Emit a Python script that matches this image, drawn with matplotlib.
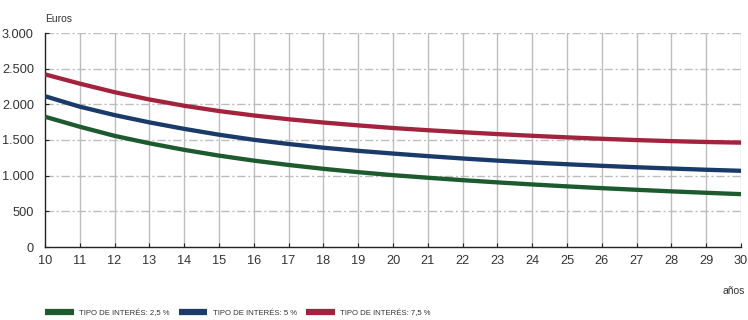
import matplotlib
matplotlib.use("Agg")
import matplotlib.pyplot as plt
from matplotlib.ticker import FuncFormatter

plt.rcParams['font.family'] = ['Liberation Sans Narrow', 'Liberation Sans', 'DejaVu Sans']

# plazo del préstamo (años) y cuota mensual en euros
anos = list(range(10, 31))
cuota_25 = [1826, 1686, 1558, 1454, 1362, 1281, 1211, 1150, 1096, 1049, 1007,
            971, 937, 906, 877, 850, 825, 802, 780, 760, 741]
cuota_5 = [2114, 1967, 1849, 1747, 1656, 1574, 1503, 1444, 1392, 1348, 1310,
           1274, 1241, 1211, 1184, 1160, 1138, 1118, 1100, 1083, 1068]
cuota_75 = [2420, 2290, 2170, 2068, 1980, 1906, 1844, 1791, 1745, 1705, 1668,
            1637, 1609, 1583, 1559, 1537, 1517, 1499, 1484, 1472, 1463]

series = [
    (cuota_25, '#1d5a2e', 'TIPO DE INTERÉS: 2,5 %'),
    (cuota_5, '#1a3b6a', 'TIPO DE INTERÉS: 5 %'),
    (cuota_75, '#a3233f', 'TIPO DE INTERÉS: 7,5 %'),
]

fig = plt.figure(figsize=(7.48, 3.2), dpi=100)
ax = fig.add_axes([45 / 748, 73 / 320, 696 / 748, 214 / 320])

for vals, col, lab in series:
    ax.plot(anos, vals, color=col, lw=3.1, label=lab, solid_capstyle='butt', zorder=3)

ax.set_xlim(10, 30)
ax.set_ylim(0, 3000)
ax.set_xticks(anos)
ax.set_yticks(range(0, 3001, 500))
ax.yaxis.set_major_formatter(FuncFormatter(lambda v, p: f"{int(v):,}".replace(',', '.')))

# rejilla: verticales continuas, horizontales punto-raya
for x in anos[1:]:
    ax.axvline(x, color='#bdbdbd', lw=1.0, zorder=1)
for y in range(500, 3001, 500):
    ax.axhline(y, color='#bdbdbd', lw=1.0, ls=(0, (6, 2, 1.5, 2)), zorder=1)

for s in ['top', 'right']:
    ax.spines[s].set_visible(False)
for s in ['left', 'bottom']:
    ax.spines[s].set_linewidth(1.0)
    ax.spines[s].set_color('#222222')

ax.tick_params(direction='in', length=3, width=0.8, color='#222222',
               labelsize=9.2, labelcolor='#333333', pad=6)
ax.tick_params(axis='y', pad=8)

fig.text(45 / 748, 1 - 19 / 320, 'Euros', fontsize=7.5, color='#333333',
         ha='left', va='center')
fig.text(745 / 748, 1 - 291 / 320, 'años', fontsize=7.5, color='#333333',
         ha='right', va='center')

leg = fig.legend(loc='center left', bbox_to_anchor=(38 / 748, 1 - 313 / 320),
                 ncol=3, frameon=False, fontsize=5.6, handlelength=3.7,
                 handletextpad=0.7, columnspacing=1.15, labelcolor='#333333')
for h in leg.get_lines():
    h.set_linewidth(4.5)

fig.savefig('out.png', dpi=100)
